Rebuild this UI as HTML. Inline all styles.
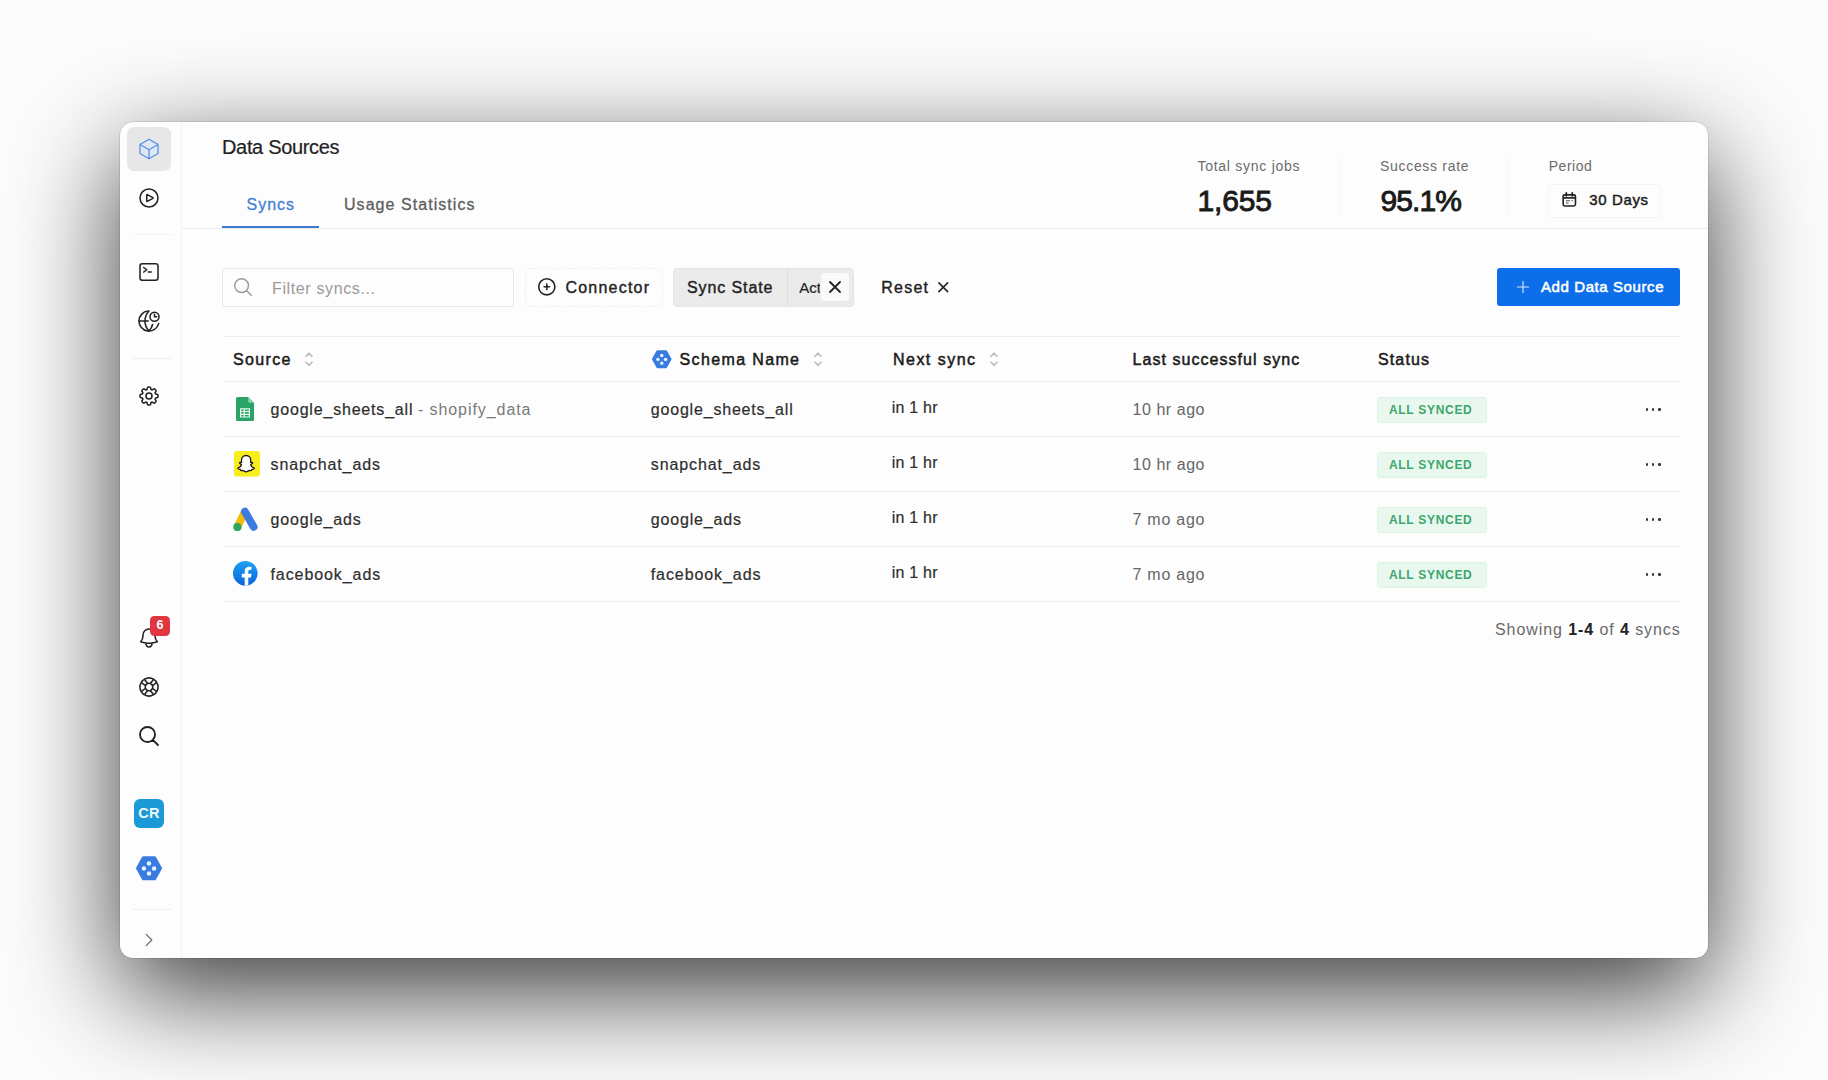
<!DOCTYPE html><html><head><meta charset="utf-8"><title>Data Sources</title><style>*{box-sizing:border-box;margin:0;padding:0}
html,body{width:1828px;height:1080px;overflow:hidden}
body{background:#fcfcfc;font-family:"Liberation Sans",sans-serif;position:relative}
.t{position:absolute;white-space:pre;display:block}
.a{position:absolute;display:block}
#win{left:120px;top:122px;width:1588px;height:836px;border-radius:13px;background:#fdfdfd;
 box-shadow:0 0 0 0.5px rgba(0,0,0,.18),0 34px 106px rgba(0,0,0,.78)}
.hl{height:1px;background:#ededed}
.vl{width:1px;background:#ececec}
svg.i{position:absolute;fill:none;stroke:#222;stroke-width:1.55;stroke-linecap:round;stroke-linejoin:round;overflow:visible}
.badge{position:absolute;left:1377.3px;width:110px;height:26.6px;background:#e9f8ef;border:1px solid #ddf3e6;border-radius:3px}
.dots{position:absolute;left:1645.5px;width:16px;height:4px}
.dots i{position:absolute;top:0;width:2.6px;height:2.6px;border-radius:50%;background:#333}
</style></head><body><div class="a" id="win"></div>
<!-- sidebar -->
<div class="a vl" style="left:181px;top:122px;height:836px;background:#f3f3f3"></div>
<div class="a" style="left:127px;top:127px;width:44px;height:43.5px;border-radius:7px;background:#e7e7e7"></div>
<div class="a hl" style="left:133px;top:234px;width:39px;background:#f3f3f3"></div>
<div class="a hl" style="left:133px;top:358px;width:39px;background:#efefef"></div>
<div class="a hl" style="left:133px;top:909px;width:38px;background:#efefef"></div>
<!-- cube -->
<svg class="i" style="left:137px;top:136.5px;stroke:#5b90e6;stroke-width:1.3" width="24" height="24" viewBox="0 0 24 24"><path fill="#dfe7f3" stroke="none" d="m21 7.5-9-5.25L3 7.5v9l9 5.25 9-5.25z"/><path d="m21 7.5-9-5.25L3 7.5m18 0-9 5.25m9-5.25v9l-9 5.25M3 7.5l9 5.25M3 7.5v9l9 5.25m0-9v9"/></svg>
<!-- play -->
<svg class="i" style="left:137px;top:185.8px" width="24" height="24" viewBox="0 0 24 24"><path d="M21 12a9 9 0 1 1-18 0 9 9 0 0 1 18 0Z"/><path d="M15.91 11.672a.375.375 0 0 1 0 .656l-5.603 3.113a.375.375 0 0 1-.557-.328V8.887c0-.286.307-.466.557-.327l5.603 3.112Z"/></svg>
<!-- terminal -->
<svg class="i" style="left:137px;top:260px" width="24" height="24" viewBox="0 0 24 24"><path d="m6.75 7.5 3 2.25-3 2.25m4.5 0h3m-9 8.25h13.5A2.25 2.25 0 0 0 21 18V6a2.25 2.25 0 0 0-2.25-2.25H5.25A2.25 2.25 0 0 0 3 6v12a2.25 2.25 0 0 0 2.25 2.25Z"/></svg>
<!-- globe clock -->
<svg class="i" style="left:136.6px;top:309.2px" width="24" height="24" viewBox="0 0 24 24"><path d="M21.66 14.59A10 10 0 1 1 11.13 2.04"/><path d="M2 12h9.3"/><path d="M12 2A14.5 14.5 0 0 0 12 22"/><path d="M12 22A14.5 14.5 0 0 0 15.57 15.5"/><circle cx="17.5" cy="7.7" r="4.5"/><path d="M17.5 5.3v2.4h2.1"/></svg>
<!-- gear -->
<svg class="i" style="left:137px;top:383.7px" width="24" height="24" viewBox="0 0 24 24"><path d="M10.343 3.94c.09-.542.56-.94 1.11-.94h1.093c.55 0 1.02.398 1.11.94l.149.894c.07.424.384.764.78.93.398.164.855.142 1.205-.108l.737-.527a1.125 1.125 0 0 1 1.45.12l.773.774c.39.389.44 1.002.12 1.45l-.527.737c-.25.35-.272.806-.107 1.204.165.397.505.71.93.78l.893.15c.543.09.94.559.94 1.109v1.094c0 .55-.397 1.02-.94 1.11l-.894.149c-.424.07-.764.383-.929.78-.165.398-.143.854.107 1.204l.527.738c.32.447.269 1.06-.12 1.45l-.774.773a1.125 1.125 0 0 1-1.449.12l-.738-.527c-.35-.25-.806-.272-1.203-.107-.398.165-.71.505-.781.929l-.149.894c-.09.542-.56.94-1.11.94h-1.094c-.55 0-1.019-.398-1.11-.94l-.148-.894c-.071-.424-.384-.764-.781-.93-.398-.164-.854-.142-1.204.108l-.738.527c-.447.32-1.06.269-1.45-.12l-.773-.774a1.125 1.125 0 0 1-.12-1.45l.527-.737c.25-.35.272-.806.108-1.204-.165-.397-.506-.71-.93-.78l-.894-.15c-.542-.09-.94-.56-.94-1.109v-1.094c0-.55.398-1.02.94-1.11l.894-.149c.424-.07.765-.383.93-.78.165-.398.143-.854-.108-1.204l-.526-.738a1.125 1.125 0 0 1 .12-1.45l.773-.773a1.125 1.125 0 0 1 1.45-.12l.737.527c.35.25.807.272 1.204.107.397-.165.71-.505.78-.929l.15-.894Z"/><path d="M15 12a3 3 0 1 1-6 0 3 3 0 0 1 6 0Z"/></svg>
<!-- bell -->
<svg class="i" style="left:137px;top:626px" width="24" height="24" viewBox="0 0 24 24"><path d="M14.857 17.082a23.848 23.848 0 0 0 5.454-1.31A8.967 8.967 0 0 1 18 9.75V9A6 6 0 0 0 6 9v.75a8.967 8.967 0 0 1-2.312 6.022c1.733.64 3.56 1.085 5.455 1.31m5.714 0a24.255 24.255 0 0 1-5.714 0m5.714 0a3 3 0 1 1-5.714 0"/></svg>
<div class="a" style="left:150.3px;top:616px;width:19.5px;height:19.5px;border-radius:4.5px;background:#e0363f;color:#fff;font-weight:700;font-size:12.5px;line-height:19.5px;text-align:center">6</div>
<!-- lifebuoy -->
<svg class="i" style="left:137px;top:674.5px" width="24" height="24" viewBox="0 0 24 24"><path d="M16.712 4.33a9.027 9.027 0 0 1 1.652 1.306c.51.51.944 1.064 1.306 1.652M16.712 4.33l-3.448 4.138m3.448-4.138a9.014 9.014 0 0 0-9.424 0M19.67 7.288l-4.138 3.448m4.138-3.448a9.014 9.014 0 0 1 0 9.424m-4.138-5.976a3.736 3.736 0 0 0-.88-1.388 3.737 3.737 0 0 0-1.388-.88m2.268 2.268a3.765 3.765 0 0 1 0 2.528m-2.268-4.796a3.765 3.765 0 0 0-2.528 0m4.796 4.796c-.181.506-.475.982-.88 1.388a3.736 3.736 0 0 1-1.388.88m2.268-2.268 4.138 3.448m0 0a9.027 9.027 0 0 1-1.306 1.652c-.51.51-1.064.944-1.652 1.306m0 0-3.448-4.138m3.448 4.138a9.014 9.014 0 0 1-9.424 0m5.976-4.138a3.765 3.765 0 0 1-2.528 0m0 0a3.736 3.736 0 0 1-1.388-.88 3.737 3.737 0 0 1-.88-1.388m2.268 2.268L7.288 19.67m0 0a9.024 9.024 0 0 1-1.652-1.306 9.027 9.027 0 0 1-1.306-1.652m0 0 4.138-3.448M4.33 16.712a9.014 9.014 0 0 1 0-9.424m4.138 5.976a3.765 3.765 0 0 1 0-2.528m0 0c.181-.506.475-.982.88-1.388a3.736 3.736 0 0 1 1.388-.88m-2.268 2.268L4.33 7.288m6.406 1.18L7.288 4.33m0 0a9.024 9.024 0 0 0-1.652 1.306A9.025 9.025 0 0 0 4.33 7.288"/></svg>
<!-- search -->
<svg class="i" style="left:137px;top:723.5px;stroke-width:1.85" width="24" height="24" viewBox="0 0 24 24"><path d="m21 21-5.197-5.197m0 0A7.5 7.5 0 1 0 5.196 5.196a7.5 7.5 0 0 0 10.607 10.607Z"/></svg>
<!-- CR -->
<div class="a" style="left:134.2px;top:798.8px;width:29.6px;height:29.3px;border-radius:6px;background:#1c9ad7;color:#eef8fd;font-weight:700;font-size:14.5px;line-height:29.6px;text-align:center;letter-spacing:.2px">CR</div>
<!-- hexagon -->
<svg class="a" style="left:135.9px;top:856.2px" width="26" height="24.5" viewBox="0 0 26 24.5"><path d="M1.7 12.25 7.5 1.9h11l5.800 10.35-5.800 10.35h-11z" fill="#3a7be0" stroke="#3a7be0" stroke-width="3.400" stroke-linejoin="round"/><g fill="#e8f3ff"><circle cx="13" cy="7.4" r="2.2"/><circle cx="7.9" cy="12.5" r="2.2"/><circle cx="18.1" cy="12.5" r="2.2"/><circle cx="13" cy="17.5" r="2.2"/></g></svg>
<!-- chevron -->
<svg class="i" style="left:140px;top:931px;stroke:#6a6a6a;stroke-width:1.6" width="18" height="18" viewBox="0 0 24 24"><path d="m8.25 4.5 7.5 7.5-7.5 7.5"/></svg>

<!-- header -->
<div class="a hl" style="left:182px;top:227.5px;width:1526px;background:#ececec"></div>
<div class="a" style="left:221.5px;top:225.7px;width:97.5px;height:2.4px;background:#3f79cf"></div>
<div class="a vl" style="left:1340px;top:157px;height:59px;background:#f6f6f6"></div>
<div class="a vl" style="left:1508px;top:157px;height:59px;background:#f6f6f6"></div>
<div class="a" style="left:1548px;top:183.5px;width:113px;height:34px;border:1px solid #f4f4f4;border-radius:3px"></div>
<!-- calendar -->
<svg class="a" style="left:1562px;top:192.3px" width="14.6" height="15.2" viewBox="0 0 15.5 16" fill="none" stroke="#222"><rect x="1.2" y="3" width="13.1" height="11.8" rx="1.8" stroke-width="1.7"/><path d="M1.2 6.2h13.1" stroke-width="1.8"/><path d="M4.6 0.9v3M10.9 0.9v3" stroke-width="1.9" stroke-linecap="round"/><path d="M4 9.3h4.5M4 11.6h3" stroke-width="1.1" stroke="#555"/><path d="M10 9.3h1.6" stroke-width="1.1" stroke="#555"/></svg>

<!-- toolbar -->
<div class="a" style="left:221.5px;top:267.5px;width:292.5px;height:39px;border:1px solid #e9e9e9;border-radius:3px;background:#fdfdfd"></div>
<svg class="i" style="left:231.6px;top:276.2px;stroke:#9a9a9a;stroke-width:1.6" width="22" height="22" viewBox="0 0 24 24"><path d="m21 21-5.197-5.197m0 0A7.5 7.5 0 1 0 5.196 5.196a7.5 7.5 0 0 0 10.607 10.607Z"/></svg>
<div class="a" style="left:525px;top:267.5px;width:138px;height:39px;border:1px dashed #f0f0f0;border-radius:3px"></div>
<svg class="i" style="left:536.2px;top:276.2px;stroke-width:1.75" width="21.6" height="21.6" viewBox="0 0 24 24"><path d="M12 9v6m3-3H9m12 0a9 9 0 1 1-18 0 9 9 0 0 1 18 0Z"/></svg>
<div class="a" style="left:672.5px;top:267.5px;width:181.5px;height:39px;border-radius:4px;background:#ebebeb;border:1px solid #e4e4e4"></div>
<div class="a vl" style="left:786.5px;top:268.5px;height:37px;background:#e0e0e0"></div>
<div class="a" style="left:799.25px;top:279px;width:21.2px;height:18px;overflow:hidden;font-size:15px;line-height:18px;color:#222;-webkit-text-stroke:.2px #222;white-space:nowrap">Active</div>
<div class="a" style="left:820.8px;top:272.5px;width:28px;height:28.5px;border-radius:3px;background:#fafafa"></div>
<svg class="i" style="left:828.5px;top:281px;stroke-width:1.8" width="12" height="12" viewBox="0 0 12 12"><path d="M1 1l10 10M11 1 1 11"/></svg>
<svg class="i" style="left:938px;top:281.8px;stroke-width:1.75" width="10.5" height="10.5" viewBox="0 0 12 12"><path d="M1 1l10 10M11 1 1 11"/></svg>
<div class="a" style="left:1497.2px;top:268px;width:183.2px;height:38.3px;border-radius:3px;background:#0c6fe9"></div>
<svg class="i" style="left:1516.5px;top:281px;stroke:#d6e6fb;stroke-width:1.2" width="12" height="12" viewBox="0 0 12 12"><path d="M6 0.5v11M0.5 6h11"/></svg>

<!-- table -->
<div class="a hl" style="left:223.5px;top:336px;width:1457px"></div>
<div class="a hl" style="left:223.5px;top:381.3px;width:1457px"></div>
<div class="a hl" style="left:223.5px;top:436.4px;width:1457px"></div>
<div class="a hl" style="left:223.5px;top:491.4px;width:1457px"></div>
<div class="a hl" style="left:223.5px;top:546.4px;width:1457px"></div>
<div class="a hl" style="left:223.5px;top:601px;width:1457px"></div>
<!-- sort icons -->
<svg class="i" style="left:305px;top:352px;stroke:#b8b8b8;stroke-width:1.6" width="8" height="14.5" viewBox="0 0 8 14.5"><path d="M1 4.2 4 1.2l3 3M1 10.3l3 3 3-3"/></svg>
<svg class="i" style="left:813.5px;top:352px;stroke:#b8b8b8;stroke-width:1.6" width="8" height="14.5" viewBox="0 0 8 14.5"><path d="M1 4.2 4 1.2l3 3M1 10.3l3 3 3-3"/></svg>
<svg class="i" style="left:989.5px;top:352px;stroke:#b8b8b8;stroke-width:1.6" width="8" height="14.5" viewBox="0 0 8 14.5"><path d="M1 4.2 4 1.2l3 3M1 10.3l3 3 3-3"/></svg>
<!-- schema hexagon small -->
<svg class="a" style="left:652.2px;top:350.2px" width="19.5" height="18.4" viewBox="0 0 26 24.5"><path d="M1.7 12.25 7.5 1.9h11l5.800 10.35-5.800 10.35h-11z" fill="#3a7be0" stroke="#3a7be0" stroke-width="3.400" stroke-linejoin="round"/><g fill="#e8f3ff"><circle cx="13" cy="7.4" r="2.3"/><circle cx="7.9" cy="12.5" r="2.3"/><circle cx="18.1" cy="12.5" r="2.3"/><circle cx="13" cy="17.5" r="2.3"/></g></svg>
<div class="badge" style="top:396.5px"></div>
<div class="dots" style="top:408px"><i style="left:0"></i><i style="left:6.4px"></i><i style="left:12.8px"></i></div>
<div class="badge" style="top:451.5px"></div>
<div class="dots" style="top:463px"><i style="left:0"></i><i style="left:6.4px"></i><i style="left:12.8px"></i></div>
<div class="badge" style="top:506.5px"></div>
<div class="dots" style="top:518px"><i style="left:0"></i><i style="left:6.4px"></i><i style="left:12.8px"></i></div>
<div class="badge" style="top:561.5px"></div>
<div class="dots" style="top:573px"><i style="left:0"></i><i style="left:6.4px"></i><i style="left:12.8px"></i></div>
<svg class="a" style="left:236.3px;top:396.7px" width="18" height="24.2" viewBox="0 0 18 24.2"><path d="M1.8 0h10.4L18 5.8v16.6a1.8 1.8 0 0 1-1.8 1.8H1.8A1.8 1.8 0 0 1 0 22.4V1.8A1.8 1.8 0 0 1 1.8 0z" fill="#2aa466"/><path d="M12.2 0 18 5.8h-4.2a1.6 1.6 0 0 1-1.6-1.6z" fill="#8ed1ae"/><path d="M4.6 11.8h8.8v8.2H4.6zM4.6 14.5h8.8M4.6 17.3h8.8M8.3 11.8v8.2" fill="none" stroke="#e9f7ef" stroke-width="1.2"/></svg>
<svg class="a" style="left:233.8px;top:451.3px" width="26" height="25.4" viewBox="0 0 26 25.4"><rect width="26" height="25.4" rx="3" fill="#f7ee1c"/><path d="M13 4.1c2.9 0 4.6 2.2 4.6 4.7 0 .9-.05 1.6-.1 2.2.5.25 1.1-.2 1.6-.1.6.15.7.8.1 1.2-.6.4-1.5.6-1.6 1.2.5 1.6 1.9 2.9 3.3 3.3.4.1.5.5.1.75-.7.4-1.6.5-2.2.7-.3.5-.1 1-.7 1.1-.7.1-1.400-.2-2.300.1-.9.3-1.500 1.200-2.800 1.200s-1.900-.9-2.800-1.200c-.9-.3-1.600 0-2.300-.1-.6-.1-.4-.6-.7-1.100-.6-.2-1.500-.3-2.200-.7-.4-.25-.3-.65.100-.75 1.400-.4 2.800-1.700 3.300-3.300-.1-.6-1-.8-1.600-1.200-.6-.4-.5-1.050.1-1.200.5-.1 1.100.35 1.600.1-.05-.6-.1-1.300-.1-2.200 0-2.500 1.700-4.700 4.600-4.700z" fill="#fff" stroke="#1a1a1a" stroke-width="1.3" stroke-linejoin="round" transform="translate(-0.9,0.4)"/></svg>
<svg class="a" style="left:233px;top:506.8px" width="25" height="24.6" viewBox="0 0 25 24.6"><path d="M4.4 20 11.6 5.2" stroke="#f2bd0c" stroke-width="7.6" stroke-linecap="butt" fill="none"/><circle cx="4.4" cy="20" r="4.1" fill="#2fa65a"/><path d="M11.9 4.6 20.6 19.8" stroke="#3c7ce0" stroke-width="7.8" stroke-linecap="round" fill="none"/></svg>
<svg class="a" style="left:233.4px;top:561.4px" width="24.6" height="24.6" viewBox="0 0 24.6 24.6"><defs><linearGradient id="fbg" x1="0" y1="0" x2="0" y2="1"><stop offset="0" stop-color="#1ca3f4"/><stop offset="1" stop-color="#0b63dc"/></linearGradient><clipPath id="fbc"><circle cx="12.3" cy="12.3" r="12.3"/></clipPath></defs><circle cx="12.3" cy="12.3" r="12.3" fill="url(#fbg)"/><g clip-path="url(#fbc)"><path transform="translate(1.4,0)" d="M10.3 25v-8.600H7.400v-3.600h2.900v-2.500c0-3 1.800-4.600 4.400-4.600 1.300 0 2.400.2 2.400.2v2.900h-1.400c-1.400 0-1.800.9-1.800 1.800v2.200h3.200l-.5 3.600h-2.700V25z" fill="#fff"/></g></svg>
<span class="t" id="t_foot" style="left:1495px;top:621.98px;font-size:16px;line-height:16px;color:#6a6a6a;letter-spacing:.92px">Showing <b style="color:#222">1-4</b> of <b style="color:#222">4</b> syncs</span>
<span class="t" id="t_title" style="left:222px;top:137.00px;font-size:20px;line-height:20px;font-weight:400;color:#222;letter-spacing:-0.334px;-webkit-text-stroke:0.2px #222;">Data Sources</span>
<span class="t" id="t_syncs" style="left:246.5px;top:196.98px;font-size:16px;line-height:16px;font-weight:400;color:#4380d4;letter-spacing:0.980px;-webkit-text-stroke:0.3px #4380d4;">Syncs</span>
<span class="t" id="t_usage" style="left:344px;top:196.98px;font-size:16px;line-height:16px;font-weight:400;color:#5e5e5e;letter-spacing:1.052px;-webkit-text-stroke:0.3px #5e5e5e;">Usage Statistics</span>
<span class="t" id="t_tot" style="left:1197.5px;top:159.02px;font-size:14px;line-height:14px;font-weight:400;color:#6b6b6b;letter-spacing:0.727px;">Total sync jobs</span>
<span class="t" id="t_1655" style="left:1197.5px;top:185.98px;font-size:30px;line-height:30px;font-weight:400;color:#1a1a1a;letter-spacing:-0.145px;-webkit-text-stroke:0.9px #1a1a1a;">1,655</span>
<span class="t" id="t_suc" style="left:1380px;top:159.02px;font-size:14px;line-height:14px;font-weight:400;color:#6b6b6b;letter-spacing:0.688px;">Success rate</span>
<span class="t" id="t_951" style="left:1380.5px;top:185.98px;font-size:30px;line-height:30px;font-weight:400;color:#1a1a1a;letter-spacing:-0.895px;-webkit-text-stroke:0.9px #1a1a1a;">95.1%</span>
<span class="t" id="t_per" style="left:1548.75px;top:159.02px;font-size:14px;line-height:14px;font-weight:400;color:#6b6b6b;letter-spacing:0.506px;">Period</span>
<span class="t" id="t_30d" style="left:1589.25px;top:191.98px;font-size:15px;line-height:15px;font-weight:400;color:#1f1f1f;letter-spacing:0.620px;-webkit-text-stroke:0.5px #1f1f1f;">30 Days</span>
<span class="t" id="t_filter" style="left:272px;top:280.98px;font-size:16px;line-height:16px;font-weight:400;color:#9a9a9a;letter-spacing:0.626px;">Filter syncs...</span>
<span class="t" id="t_conn" style="left:565.5px;top:279.98px;font-size:16px;line-height:16px;font-weight:400;color:#222;letter-spacing:1.209px;-webkit-text-stroke:0.4px #222;">Connector</span>
<span class="t" id="t_state" style="left:687px;top:279.98px;font-size:16px;line-height:16px;font-weight:400;color:#222;letter-spacing:0.903px;-webkit-text-stroke:0.4px #222;">Sync State</span>
<span class="t" id="t_reset" style="left:881.25px;top:279.98px;font-size:16px;line-height:16px;font-weight:400;color:#222;letter-spacing:1.238px;-webkit-text-stroke:0.4px #222;">Reset</span>
<span class="t" id="t_add" style="left:1541px;top:278.98px;font-size:15px;line-height:15px;font-weight:400;color:#fff;letter-spacing:0.589px;-webkit-text-stroke:0.55px #fff;">Add Data Source</span>
<span class="t" id="t_h1" style="left:233px;top:351.98px;font-size:16px;line-height:16px;font-weight:400;color:#1a1a1a;letter-spacing:1.359px;-webkit-text-stroke:0.5px #1a1a1a;">Source</span>
<span class="t" id="t_h2" style="left:679.5px;top:351.98px;font-size:16px;line-height:16px;font-weight:400;color:#1a1a1a;letter-spacing:1.367px;-webkit-text-stroke:0.5px #1a1a1a;">Schema Name</span>
<span class="t" id="t_h3" style="left:893px;top:351.98px;font-size:16px;line-height:16px;font-weight:400;color:#1a1a1a;letter-spacing:1.469px;-webkit-text-stroke:0.5px #1a1a1a;">Next sync</span>
<span class="t" id="t_h4" style="left:1132.5px;top:351.98px;font-size:16px;line-height:16px;font-weight:400;color:#1a1a1a;letter-spacing:1.053px;-webkit-text-stroke:0.5px #1a1a1a;">Last successful sync</span>
<span class="t" id="t_h5" style="left:1378px;top:351.98px;font-size:16px;line-height:16px;font-weight:400;color:#1a1a1a;letter-spacing:1.128px;-webkit-text-stroke:0.5px #1a1a1a;">Status</span>
<span class="t" id="t_src0" style="left:270.5px;top:401.98px;font-size:16px;line-height:16px;font-weight:400;color:#2e2e2e;letter-spacing:0.812px;-webkit-text-stroke:0.2px #2e2e2e;">google_sheets_all</span>
<span class="t" id="t_sch0" style="left:650.75px;top:401.98px;font-size:16px;line-height:16px;font-weight:400;color:#2e2e2e;letter-spacing:0.812px;-webkit-text-stroke:0.2px #2e2e2e;">google_sheets_all</span>
<span class="t" id="t_in0" style="left:891.75px;top:399.98px;font-size:16px;line-height:16px;font-weight:400;color:#2e2e2e;letter-spacing:0.214px;-webkit-text-stroke:0.2px #2e2e2e;">in 1 hr</span>
<span class="t" id="t_ago0" style="left:1132.5px;top:401.98px;font-size:16px;line-height:16px;font-weight:400;color:#666;letter-spacing:0.549px;">10 hr ago</span>
<span class="t" id="t_bad0" style="left:1388.9px;top:404.02px;font-size:12px;line-height:12px;font-weight:700;color:#3ea66d;letter-spacing:0.716px;">ALL SYNCED</span>
<span class="t" id="t_src1" style="left:270.5px;top:456.98px;font-size:16px;line-height:16px;font-weight:400;color:#2e2e2e;letter-spacing:0.896px;-webkit-text-stroke:0.2px #2e2e2e;">snapchat_ads</span>
<span class="t" id="t_sch1" style="left:650.75px;top:456.98px;font-size:16px;line-height:16px;font-weight:400;color:#2e2e2e;letter-spacing:0.896px;-webkit-text-stroke:0.2px #2e2e2e;">snapchat_ads</span>
<span class="t" id="t_in1" style="left:891.75px;top:454.98px;font-size:16px;line-height:16px;font-weight:400;color:#2e2e2e;letter-spacing:0.214px;-webkit-text-stroke:0.2px #2e2e2e;">in 1 hr</span>
<span class="t" id="t_ago1" style="left:1132.5px;top:456.98px;font-size:16px;line-height:16px;font-weight:400;color:#666;letter-spacing:0.549px;">10 hr ago</span>
<span class="t" id="t_bad1" style="left:1388.9px;top:459.02px;font-size:12px;line-height:12px;font-weight:700;color:#3ea66d;letter-spacing:0.716px;">ALL SYNCED</span>
<span class="t" id="t_src2" style="left:270.5px;top:511.98px;font-size:16px;line-height:16px;font-weight:400;color:#2e2e2e;letter-spacing:0.833px;-webkit-text-stroke:0.2px #2e2e2e;">google_ads</span>
<span class="t" id="t_sch2" style="left:650.75px;top:511.98px;font-size:16px;line-height:16px;font-weight:400;color:#2e2e2e;letter-spacing:0.833px;-webkit-text-stroke:0.2px #2e2e2e;">google_ads</span>
<span class="t" id="t_in2" style="left:891.75px;top:509.98px;font-size:16px;line-height:16px;font-weight:400;color:#2e2e2e;letter-spacing:0.214px;-webkit-text-stroke:0.2px #2e2e2e;">in 1 hr</span>
<span class="t" id="t_ago2" style="left:1132.5px;top:511.98px;font-size:16px;line-height:16px;font-weight:400;color:#666;letter-spacing:0.754px;">7 mo ago</span>
<span class="t" id="t_bad2" style="left:1388.9px;top:514.02px;font-size:12px;line-height:12px;font-weight:700;color:#3ea66d;letter-spacing:0.716px;">ALL SYNCED</span>
<span class="t" id="t_src3" style="left:270.5px;top:566.98px;font-size:16px;line-height:16px;font-weight:400;color:#2e2e2e;letter-spacing:0.919px;-webkit-text-stroke:0.2px #2e2e2e;">facebook_ads</span>
<span class="t" id="t_sch3" style="left:650.75px;top:566.98px;font-size:16px;line-height:16px;font-weight:400;color:#2e2e2e;letter-spacing:0.919px;-webkit-text-stroke:0.2px #2e2e2e;">facebook_ads</span>
<span class="t" id="t_in3" style="left:891.75px;top:564.98px;font-size:16px;line-height:16px;font-weight:400;color:#2e2e2e;letter-spacing:0.214px;-webkit-text-stroke:0.2px #2e2e2e;">in 1 hr</span>
<span class="t" id="t_ago3" style="left:1132.5px;top:566.98px;font-size:16px;line-height:16px;font-weight:400;color:#666;letter-spacing:0.754px;">7 mo ago</span>
<span class="t" id="t_bad3" style="left:1388.9px;top:569.02px;font-size:12px;line-height:12px;font-weight:700;color:#3ea66d;letter-spacing:0.716px;">ALL SYNCED</span>
<span class="t" id="t_shop" style="left:412.5px;top:401.98px;font-size:16px;line-height:16px;font-weight:400;color:#7a7a7a;letter-spacing:0.932px;"> - shopify_data</span></body></html>
